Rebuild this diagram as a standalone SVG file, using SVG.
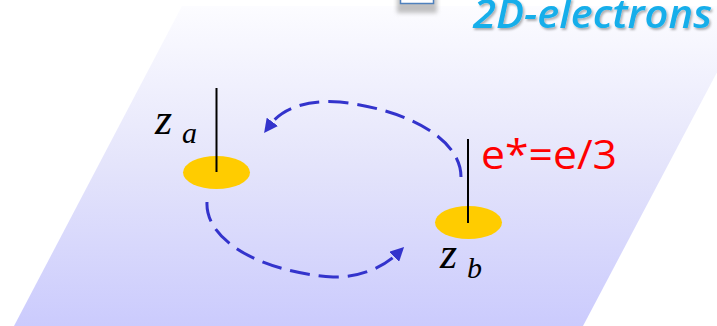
<svg xmlns="http://www.w3.org/2000/svg" width="717" height="326" viewBox="0 0 717 326">
  <defs>
    <linearGradient id="plane" x1="0" y1="0" x2="0" y2="1">
      <stop offset="0" stop-color="#fcfcff"/>
      <stop offset="0.5" stop-color="#e4e4fb"/>
      <stop offset="1" stop-color="#cbcbfd"/>
    </linearGradient>
    <filter id="blur" x="-20%" y="-50%" width="140%" height="200%">
      <feGaussianBlur stdDeviation="2"/>
    </filter>
    <filter id="tshadow" x="-5%" y="-30%" width="115%" height="170%">
      <feDropShadow dx="1.5" dy="2" stdDeviation="1.2" flood-color="#000000" flood-opacity="0.3"/>
    </filter>
    <marker id="arr" viewBox="0 0 14 14" markerWidth="14" markerHeight="14" refX="4" refY="7" orient="auto" markerUnits="userSpaceOnUse">
      <path d="M0,0 L14,7 L0,14 z" fill="#3333cc"/>
    </marker>
    <style>
      .pin { stroke: #000; stroke-width: 2; }
      .disk { fill: #ffcc00; }
      .flow { fill: none; stroke: #3333cc; stroke-width: 3; stroke-dasharray: 20 9; marker-end: url(#arr); }
      .zl { font-family: "Liberation Serif", serif; font-style: italic; fill: #000; }
    </style>
  </defs>

  <rect width="717" height="326" fill="#ffffff"/>

  <g id="plane-sheet">
    <polygon points="182,6 752,6 583,326 14,326" fill="url(#plane)"/>
  </g>

  <g id="icon">
    <rect x="397" y="-4" width="40" height="17" fill="#999999" opacity="0.6" filter="url(#blur)"/>
    <rect x="400.5" y="-10" width="33" height="13.5" fill="#ffffff" stroke="#4f81bd" stroke-width="1.5"/>
  </g>

  <g id="title">
    <text x="473" y="28" font-family="'Open Sans', 'Noto Sans', sans-serif" font-style="italic" font-weight="600" font-size="39" fill="#18aeea" filter="url(#tshadow)" textLength="239" lengthAdjust="spacingAndGlyphs">2D-electrons</text>
  </g>

  <g id="node-a">
    <ellipse class="disk" cx="216.5" cy="172.5" rx="33.5" ry="16.5"/>
    <line class="pin" x1="216.5" y1="88" x2="216.5" y2="172"/>
    <text class="zl" x="155" y="134" font-size="44">z</text>
    <text class="zl" x="182" y="143" font-size="30">a</text>
  </g>

  <g id="node-b">
    <ellipse class="disk" cx="468.5" cy="222.5" rx="33.5" ry="16.5"/>
    <line class="pin" x1="468" y1="139" x2="468" y2="223"/>
    <text class="zl" x="440" y="268" font-size="44">z</text>
    <text class="zl" x="467" y="278" font-size="30">b</text>
  </g>

  <g id="charge-label">
    <text x="481" y="169" font-family="'Open Sans', 'Noto Sans', sans-serif" font-size="41" fill="#ff0000" textLength="136" lengthAdjust="spacingAndGlyphs">e*=e/3</text>
  </g>

  <g id="connectors">
    <path class="flow" d="M461,177 C461,140 410,110 340,102 C305,99 281,110 270,125"/>
    <path class="flow" d="M207,202 C205,240 260,272 333,277 C360,278 385,266 397,254"/>
  </g>
</svg>
